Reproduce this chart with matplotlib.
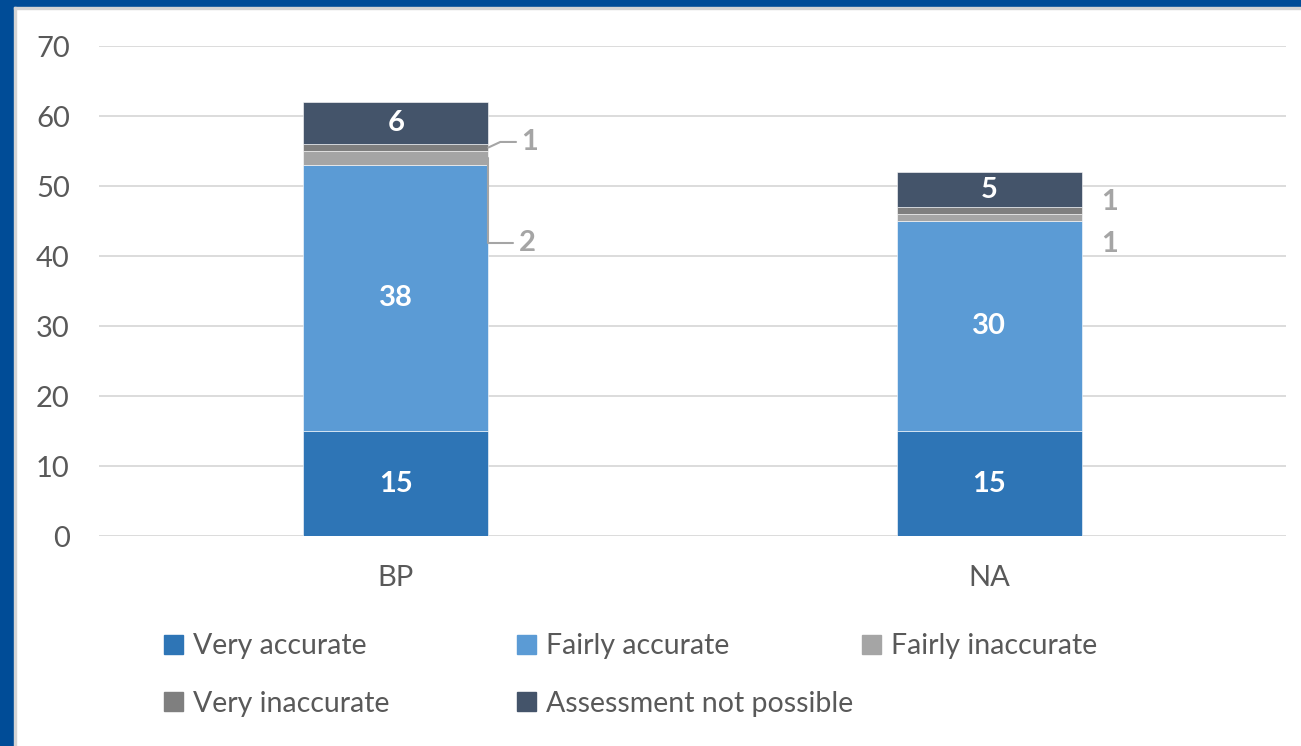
import matplotlib.pyplot as plt
from matplotlib.patches import Rectangle, Patch
import numpy as np

plt.rcParams['font.family'] = ['Lato', 'DejaVu Sans']

groups = ['BP', 'NA']
series = ['Very accurate', 'Fairly accurate', 'Fairly inaccurate',
          'Very inaccurate', 'Assessment not possible']
very_accurate = [15, 15]
fairly_accurate = [38, 30]
fairly_inaccurate = [2, 1]
very_inaccurate = [1, 1]
not_possible = [6, 5]
colors = ['#2E75B6', '#5B9BD5', '#A5A5A5', '#7F7F7F', '#44546A']

values = [very_accurate, fairly_accurate, fairly_inaccurate, very_inaccurate, not_possible]

fig = plt.figure(figsize=(13.01, 7.46), dpi=100)
ax = fig.add_axes([0.0761, 0.2815, 0.9124, 0.6568])

x = np.arange(len(groups))
width = 0.312
bottom = np.zeros(len(groups))
for vals, col in zip(values, colors):
    ax.bar(x, vals, width, bottom=bottom, color=col, edgecolor='white', linewidth=0.4, zorder=3)
    bottom += np.array(vals)

ax.set_xlim(-0.5, 1.5)
ax.set_ylim(0, 70)
ax.set_yticks(range(0, 71, 10))
ax.set_xticks(x)
ax.set_xticklabels(groups)
ax.grid(axis='y', color='#D9D9D9', linewidth=1.3, zorder=0)
ax.set_axisbelow(True)
for s in ax.spines.values():
    s.set_visible(False)
ax.tick_params(length=0, labelsize=21, colors='#595959')
ax.tick_params(axis='y', pad=21)
ax.tick_params(axis='x', pad=21)

# white labels inside the big segments
lbl = dict(color='white', fontsize=21, fontweight='bold', ha='center', va='center', zorder=5)
cum = np.zeros(len(groups))
for i, vals in enumerate(values):
    for j in range(len(groups)):
        if i in (0, 1, 4):
            ax.text(x[j], cum[j] + vals[j] / 2, str(vals[j]), **lbl)
    cum += np.array(vals)

# small segments labelled outside
grey = dict(color='#A5A5A5', fontsize=21, fontweight='bold', ha='center', va='center')
edge = x[0] + width / 2
y_fi = very_accurate[0] + fairly_accurate[0] + fairly_inaccurate[0] / 2
y_vi = very_accurate[0] + fairly_accurate[0] + fairly_inaccurate[0] + very_inaccurate[0] / 2
ax.annotate(str(very_inaccurate[0]), xy=(edge, y_vi), xytext=(30, 4), textcoords='offset points',
            arrowprops=dict(arrowstyle='-', color='#A5A5A5', lw=1.5, shrinkA=2, shrinkB=0,
                            connectionstyle='angle,angleA=0,angleB=25,rad=0'), **grey)
ax.annotate(str(fairly_inaccurate[0]), xy=(edge, y_fi), xytext=(28, -61), textcoords='offset points',
            arrowprops=dict(arrowstyle='-', color='#A5A5A5', lw=1.5, shrinkA=2, shrinkB=0,
                            connectionstyle='angle,angleA=0,angleB=90,rad=0'), **grey)

edge = x[1] + width / 2
y_fi = very_accurate[1] + fairly_accurate[1] + fairly_inaccurate[1] / 2
y_vi = very_accurate[1] + fairly_accurate[1] + fairly_inaccurate[1] + very_inaccurate[1] / 2
ax.annotate(str(very_inaccurate[1]), xy=(edge, y_vi), xytext=(20, 6), textcoords='offset points', **grey)
ax.annotate(str(fairly_inaccurate[1]), xy=(edge, y_fi), xytext=(20, -19), textcoords='offset points', **grey)

# legend laid out in three columns like the original
handles = [Patch(color=c) for c in colors]
cols = [([0, 3], 0.1153), ([1, 4], 0.3868), ([2], 0.6518)]
for idx, xpos in cols:
    fig.legend([handles[i] for i in idx], [series[i] for i in idx], loc='upper left',
               bbox_to_anchor=(xpos, 0.17), frameon=False, fontsize=20.5,
               labelcolor='#595959', handlelength=0.65, handleheight=0.65,
               handletextpad=0.35, labelspacing=1.1, borderpad=0)

# blue frame on left and top
fig.patches.append(Rectangle((0, 0), 14 / 1301, 1, transform=fig.transFigure, color='#004C97', zorder=10))
fig.patches.append(Rectangle((0, 1 - 7 / 746), 1, 7 / 746, transform=fig.transFigure, color='#004C97', zorder=10))
fig.patches.append(Rectangle((14 / 1301, 0), 2 / 1301, 1 - 7 / 746, transform=fig.transFigure, color='#D4D4D4', zorder=10))
fig.patches.append(Rectangle((14 / 1301, 1 - 9 / 746), 1, 2 / 746, transform=fig.transFigure, color='#D4D4D4', zorder=10))

fig.savefig('out.png', dpi=100)
